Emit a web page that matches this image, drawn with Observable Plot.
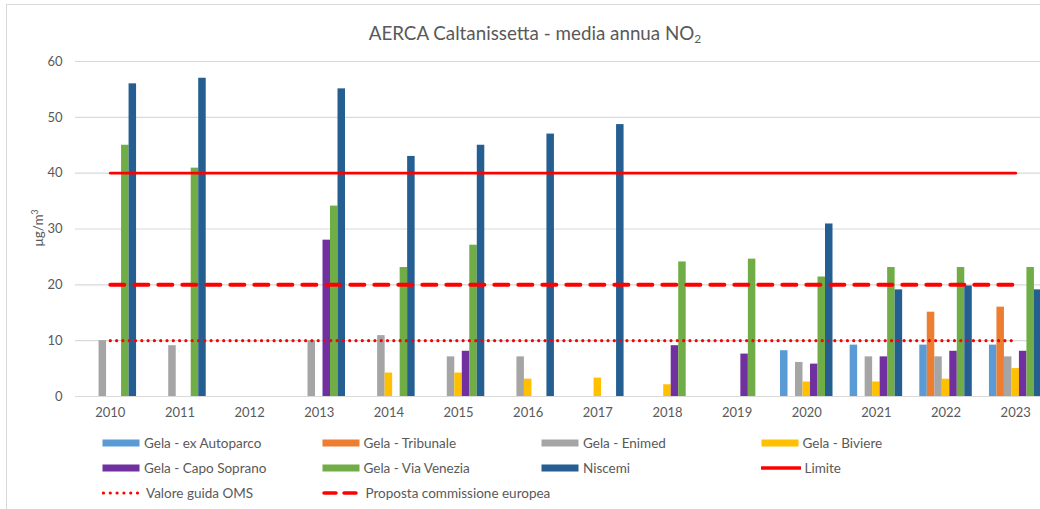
<!DOCTYPE html>
<html>
<head>
<meta charset="utf-8">
<script src="https://cdn.jsdelivr.net/npm/d3@7"></script>
<script src="https://cdn.jsdelivr.net/npm/@observablehq/plot@0.6"></script>
<style>
  html, body { margin: 0; padding: 0; background: #fff; overflow: hidden; width: 1040px; height: 509px; }
  body { font-family: Lato, "Open Sans", sans-serif; color: #595959; position: relative; }
  #frame { position: absolute; left: 6px; top: 4px; width: 1100px; height: 600px; border-left: 1.5px solid #d9d9d9; border-top: 1.5px solid #d9d9d9; }
  #title { position: absolute; left: 0; width: 1070px; top: 21px; text-align: center; font-size: 18.8px; color: #595959; }
  #title sub { font-size: 12px; vertical-align: -3px; line-height: 0; }
  #chart { position: absolute; left: 0; top: 45px; width: 1060px; }
  #chart svg { max-width: none !important; }
  #ylabel { position: absolute; left: 38px; top: 228px; transform: translate(-50%, -50%) rotate(-90deg); font-size: 13.5px; white-space: nowrap; }
  #ylabel sup { font-size: 8.5px; vertical-align: 5px; line-height: 0; }
  #legend { position: absolute; left: 102px; top: 430px; display: grid; grid-template-columns: repeat(4, 219.5px); grid-auto-rows: 25px; font-size: 13.5px; white-space: nowrap; }
  .item { display: flex; align-items: center; }
  .item svg { margin-right: 4px; flex: none; }
</style>
</head>
<body>
<div id="frame"></div>
<div id="title">AERCA Caltanissetta - media annua NO<sub>2</sub></div>
<div id="chart"></div>
<div id="ylabel">μg/m<sup>3</sup></div>
<div id="legend"></div>
<script>
const years = [2010, 2011, 2012, 2013, 2014, 2015, 2016, 2017, 2018, 2019, 2020, 2021, 2022, 2023];

const series = ["Gela - ex Autoparco", "Gela - Tribunale", "Gela - Enimed", "Gela - Biviere", "Gela - Capo Soprano", "Gela - Via Venezia", "Niscemi"];
const colors = ["#5B9BD5", "#ED7D31", "#A5A5A5", "#FFC000", "#7030A0", "#70AD47", "#255E91"];

const exAutoparco = [null, null, null, null, null, null, null, null, null, null, 8.2, 9.2, 9.2, 9.2];
const tribunale   = [null, null, null, null, null, null, null, null, null, null, null, null, 15.1, 16.0];
const enimed      = [10.0, 9.1, null, 10.0, 10.9, 7.1, 7.1, null, null, null, 6.1, 7.1, 7.1, 7.1];
const biviere     = [null, null, null, null, 4.2, 4.2, 3.1, 3.3, 2.1, null, 2.6, 2.6, 3.1, 5.0];
const capoSoprano = [null, null, null, 28.0, null, 8.1, null, null, 9.1, 7.6, 5.8, 7.1, 8.1, 8.1];
const viaVenezia  = [45.0, 40.9, null, 34.1, 23.1, 27.1, null, null, 24.1, 24.6, 21.4, 23.1, 23.1, 23.1];
const niscemi     = [56.0, 57.0, null, 55.1, 43.0, 45.0, 47.0, 48.7, null, null, 30.9, 19.1, 19.8, 19.1];
const seriesValues = [exAutoparco, tribunale, enimed, biviere, capoSoprano, viaVenezia, niscemi];

const limite = 40;
const propostaUE = 20;
const valoreOMS = 10;
const refNames = ["Limite", "Valore guida OMS", "Proposta commissione europea"];

const W = 1060, mL = 75, mR = 10;
const bw = (W - mL - mR) / years.length;
const slot = 7.5;
const pad = (bw - slot * series.length) / 2;

const barMarks = series.map((name, i) => Plot.barY(
  years.map((yr, j) => ({year: yr, value: seriesValues[i][j]})).filter(d => d.value != null),
  {x: "year", y: "value", fill: colors[i],
   insetLeft: pad + i * slot, insetRight: bw - pad - (i + 1) * slot}
));

const refLine = (v) => years.map(yr => ({year: yr, value: v}));

const chart = Plot.plot({
  width: W,
  height: 385,
  marginLeft: mL,
  marginRight: mR,
  marginTop: 16,
  marginBottom: 34,
  style: {fontFamily: "Lato, 'Open Sans', sans-serif", fontSize: "13px", color: "#595959", background: "transparent", maxWidth: "none"},
  x: {type: "band", domain: years, padding: 0, round: false, tickSize: 0, tickPadding: 11, label: null, tickFormat: d => String(d)},
  y: {domain: [0, 60], ticks: [0, 10, 20, 30, 40, 50, 60], tickSize: 0, tickPadding: 13, label: null},
  marks: [
    Plot.gridY([0, 10, 20, 30, 40, 50, 60], {stroke: "#d9d9d9", strokeOpacity: 1, strokeWidth: 1.2}),
    ...barMarks,
    Plot.lineY(refLine(limite), {x: "year", y: "value", stroke: "#FF0000", strokeWidth: 2.8}),
    Plot.lineY(refLine(propostaUE), {x: "year", y: "value", stroke: "#FF0000", strokeWidth: 4, strokeDasharray: "14,10"}),
    Plot.lineY(refLine(valoreOMS), {x: "year", y: "value", stroke: "#FF0000", strokeWidth: 3.2, strokeDasharray: "0,6.3", strokeLinecap: "round"})
  ]
});
document.getElementById("chart").appendChild(chart);

// Legend
const legend = document.getElementById("legend");
const legendItems = [
  ...series.map((s, i) => ({label: s, kind: "bar", color: colors[i]})),
  {label: refNames[0], kind: "solid"},
  {label: refNames[1], kind: "dot"},
  {label: refNames[2], kind: "dash"}
];
for (const it of legendItems) {
  const div = document.createElement("div");
  div.className = "item";
  let sw;
  if (it.kind === "bar") {
    sw = `<svg width="38" height="10"><rect x="0.5" y="1.5" width="37" height="7" fill="${it.color}"/></svg>`;
  } else if (it.kind === "solid") {
    sw = `<svg width="40" height="10"><line x1="1" x2="39" y1="5" y2="5" stroke="#FF0000" stroke-width="3.5" stroke-linecap="round"/></svg>`;
  } else if (it.kind === "dot") {
    sw = `<svg width="40" height="10"><line x1="1.5" x2="39" y1="5" y2="5" stroke="#FF0000" stroke-width="3.2" stroke-dasharray="0,6.8" stroke-linecap="round"/></svg>`;
  } else {
    sw = `<svg width="40" height="10"><line x1="2" x2="38" y1="5" y2="5" stroke="#FF0000" stroke-width="3.5" stroke-dasharray="12,8" stroke-linecap="round"/></svg>`;
  }
  div.innerHTML = sw + `<span>${it.label}</span>`;
  legend.appendChild(div);
}
</script>
</body>
</html>
